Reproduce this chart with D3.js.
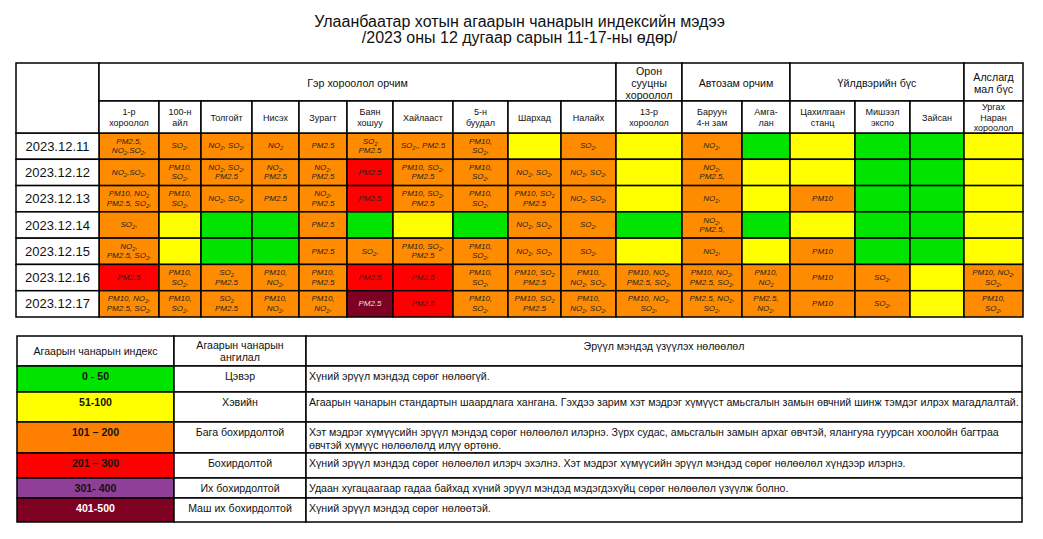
<!DOCTYPE html>
<html>
<head>
<meta charset="utf-8">
<script src="https://cdn.jsdelivr.net/npm/d3@7"></script>
<style>
	body { margin: 0; background: #fff; }
	svg { font-family: "Liberation Sans", Arial, sans-serif; }
</style>
</head>
<body>
<svg></svg>
<script>
// ---------- DATA ----------
const titleLines = [
	"Улаанбаатар хотын агаарын чанарын индексийн мэдээ",
	"/2023 оны 12 дугаар сарын 11-17-ны өдөр/",
];

const groups = [
	"Гэр хороолол орчим",
	"Орон\nсууцны\nхороолол",
	"Автозам орчим",
	"Үйлдвэрийн бүс",
	"Алслагд\nмал бүс",
];
// how many stations belong to each group
const groupSpan = [10, 1, 2, 3, 1];

const stations = [
	"1-р\nхороолол", "100-н\nайл", "Толгойт", "Нисэх", "Зурагт",
	"Баян\nхошуу", "Хайлааст", "5-н\nбуудал", "Шархад", "Налайх",
	"13-р\nхороолол", "Баруун\n4-н зам", "Амга-\nлан",
	"Цахилгаан\nстанц", "Мишээл\nэкспо", "Зайсан",
	"Ургах\nНаран\nхороолол",
];

const dates = [
	"2023.12.11", "2023.12.12", "2023.12.13", "2023.12.14",
	"2023.12.15", "2023.12.16", "2023.12.17",
];

// 0 clean, 1 normal, 2 slightly polluted, 3 polluted, 4 very, 5 extremely
const levels = [
	[2, 2, 2, 2, 2, 2, 2, 2, 1, 2, 1, 2, 0, 1, 0, 0, 1],
	[2, 2, 2, 2, 2, 3, 2, 2, 2, 2, 1, 2, 1, 1, 0, 0, 1],
	[2, 2, 2, 2, 2, 3, 2, 2, 2, 2, 1, 2, 1, 2, 0, 0, 1],
	[2, 1, 0, 0, 2, 0, 1, 0, 2, 2, 0, 2, 0, 1, 0, 0, 1],
	[2, 1, 0, 0, 2, 2, 2, 2, 2, 2, 1, 2, 1, 2, 0, 0, 1],
	[3, 2, 2, 2, 2, 3, 3, 2, 2, 2, 2, 2, 2, 2, 2, 1, 2],
	[2, 2, 2, 2, 2, 5, 3, 2, 2, 2, 2, 2, 2, 2, 2, 1, 2],
];

const pollutants = [
	["PM2.5,\nNO2,SO2,", "SO2,", "NO2, SO2,", "NO2", "PM2.5", "SO2\nPM2.5", "SO2,, PM2.5", "PM10,\nSO2,",
		"", "SO2,", "", "NO2,", "", "", "", "", ""],
	["NO2,SO2,", "PM10,\nSO2,", "NO2, SO2,\nPM2.5", "NO2,\nPM2.5", "NO2,\nPM2.5", "PM2.5", "PM10,  SO2,\nPM2.5", "PM10,\nSO2,",
		"NO2, SO2,", "NO2, SO2,", "", "NO2,\nPM2.5,", "", "", "", "", ""],
	["PM10,  NO2\nPM2.5, SO2,", "PM10,\nSO2,", "NO2, SO2,", "PM2.5", "NO2,\nPM2.5", "PM2.5", "PM10,  SO2,\nPM2.5", "PM10,\nSO2,",
		"PM10, SO2\nPM2.5", "NO2, SO2,", "", "NO2,", "", "PM10", "", "", ""],
	["SO2,", "", "", "", "PM2.5", "", "", "",
		"NO2, SO2,", "SO2,", "", "NO2,\nPM2.5,", "", "", "", "", ""],
	["NO2,\nPM2.5, SO2,", "", "", "", "PM2.5", "SO2,", "PM10,  SO2,\nPM2.5", "PM10,\nSO2,",
		"NO2, SO2,", "SO2,", "", "NO2,", "", "PM10", "", "", ""],
	["PM2.5", "PM10,\nSO2,", "SO2\nPM2.5", "PM10,\nNO2,", "PM10,\nPM2.5", "PM2.5", "PM2.5", "PM10,\nSO2,",
		"PM10, SO2\nPM2.5", "PM10,\nNO2, SO2,", "PM10,  NO2,\nPM2.5, SO2,", "PM10,  NO2,\nPM2.5, SO2,", "PM10,\nNO2",
		"PM10", "SO2,", "", "PM10,  NO2,\nSO2,"],
	["PM10,  NO2,\nPM2.5, SO2,", "PM10,\nSO2,", "SO2\nPM2.5", "PM10,\nNO2,", "PM10,\nNO2,", "PM2.5", "PM2.5", "PM10,\nSO2,",
		"PM10, SO2\nPM2.5", "PM10,\nNO2, SO2,", "PM10,  NO2,\nSO2,", "PM2.5, NO2,\nSO2,", "PM2.5,\nNO2,",
		"PM10", "SO2,", "", "PM10,\nSO2,"],
];

const legendHeaders = ["Агаарын чанарын индекс", "Агаарын чанарын\nангилал", "Эрүүл мэндэд үзүүлэх нөлөөлөл"];
const aqiRanges = ["0 - 50", "51-100", "101 – 200", "201 – 300", "301- 400", "401-500"];
const aqiClasses = ["Цэвэр", "Хэвийн", "Бага бохирдолтой", "Бохирдолтой", "Их бохирдолтой", "Маш их бохирдолтой"];
const aqiEffects = [
	"Хүний эрүүл мэндэд сөрөг нөлөөгүй.",
	"Агаарын чанарын стандартын шаардлага хангана. Гэхдээ зарим хэт мэдрэг хүмүүст  амьсгалын замын өвчний шинж тэмдэг илрэх магадлалтай.",
	"Хэт мэдрэг хүмүүсийн эрүүл мэндэд  сөрөг нөлөөлөл илэрнэ. Зүрх судас, амьсгалын замын архаг өвчтэй, ялангуяа гуурсан хоолойн багтраа\nөвчтэй хүмүүс нөлөөлөлд илүү өртөнө.",
	"Хүний эрүүл мэндэд сөрөг нөлөөлөл илэрч эхэлнэ. Хэт мэдрэг хүмүүсийн эрүүл мэндэд сөрөг нөлөөлөл хүндээр илэрнэ.",
	"Удаан хугацаагаар гадаа байхад хүний эрүүл мэндэд мэдэгдэхүйц сөрөг нөлөөлөл үзүүлж болно.",
	"Хүний эрүүл мэндэд сөрөг нөлөөтэй.",
];

// ---------- STYLE / LAYOUT ----------
const size = { w: 1043, h: 539 };
const tableColors = ["#00e400", "#ffff00", "#ff8c00", "#ff0000", "#8f3f97", "#7e0023"];
const legendColors = ["#00e400", "#ffff00", "#ff8000", "#ff0000", "#8f3f97", "#7e0023"];
const tbl = { l: 16, t: 63, r: 1023, b: 317, dateW: 83, groupB: 101, headB: 133 };
const colWeights = [60, 42, 51, 47, 48, 46, 60, 55, 53, 55, 66, 60, 48, 65, 55, 54, 59];
const leg = { l: 17, t: 336, b: 522, r: 1022, c1: 174, c2: 306 };
const legRowWeights = [30, 26, 30, 31, 25, 20, 24];
const legFont = 10.6;
const stroke = 1.5;

const svg = d3.select("svg").attr("width", size.w).attr("height", size.h);

// draws text with NO2 / SO2 subscripts, one tspan per piece
function richText(g, str, x, cy, lh, fs, anchor) {
	const lines = str.split("\n");
	const t = g.append("text")
		.attr("text-anchor", anchor || "middle")
		.attr("font-size", fs);
	lines.forEach((ln, k) => {
		const y = cy + (k - (lines.length - 1) / 2) * lh + fs * 0.35;
		const parts = ln.split(/(NO2|SO2)/).filter((p) => p !== "");
		let first = true;
		let shifted = false;
		parts.forEach((p) => {
			const isChem = p === "NO2" || p === "SO2";
			const a = t.append("tspan").text(isChem ? p.slice(0, 2) : p);
			if (first) { a.attr("x", x).attr("y", y); first = false; }
			else if (shifted) { a.attr("dy", -2); shifted = false; }
			if (isChem) {
				t.append("tspan").text("2").attr("font-size", fs * 0.7).attr("dy", 2);
				shifted = true;
			}
		});
	});
	return t;
}

// ---------- TITLE ----------
svg.append("g").selectAll("text")
	.data(titleLines)
	.join("text")
	.attr("x", size.w / 2 - 2)
	.attr("y", (d, i) => 27 + i * 16)
	.attr("text-anchor", "middle")
	.attr("font-size", 16)
	.attr("fill", "#111")
	.text((d) => d);

// ---------- MAIN TABLE ----------
const edges = d3.cumsum([0, ...colWeights]);
const x = d3.scaleLinear()
	.domain([0, edges[edges.length - 1]])
	.range([tbl.l + tbl.dateW, tbl.r]);
const y = d3.scaleBand().domain(dates).range([tbl.headB, tbl.b]);

const tableG = svg.append("g").classed("table", true);

// cell fills
const cells = [];
dates.forEach((d, i) => {
	stations.forEach((s, j) => {
		cells.push({ date: d, j: j, level: levels[i][j], text: pollutants[i][j] });
	});
});

tableG.append("g").selectAll("rect")
	.data(cells)
	.join("rect")
	.attr("x", (d) => x(edges[d.j]))
	.attr("y", (d) => y(d.date))
	.attr("width", (d) => x(edges[d.j + 1]) - x(edges[d.j]))
	.attr("height", y.bandwidth())
	.attr("fill", (d) => tableColors[d.level])
	.attr("stroke", "#000")
	.attr("stroke-width", stroke);

const cellText = tableG.append("g").attr("font-style", "italic");
cells.filter((d) => d.text).forEach((d) => {
	const cx = (x(edges[d.j]) + x(edges[d.j + 1])) / 2;
	const cy = y(d.date) + y.bandwidth() / 2 - 0.5;
	richText(cellText, d.text, cx, cy, 9.5, 8)
		.attr("fill", d.level === 5 ? "#e0e0e0" : "#222");
});

// date column
tableG.append("g").selectAll("rect")
	.data(dates)
	.join("rect")
	.attr("x", tbl.l)
	.attr("y", (d) => y(d))
	.attr("width", tbl.dateW)
	.attr("height", y.bandwidth())
	.attr("fill", "#fff")
	.attr("stroke", "#000")
	.attr("stroke-width", stroke);

tableG.append("g").selectAll("text")
	.data(dates)
	.join("text")
	.attr("x", tbl.l + tbl.dateW / 2)
	.attr("y", (d) => y(d) + y.bandwidth() / 2 + 4.6)
	.attr("text-anchor", "middle")
	.attr("font-size", 13)
	.attr("fill", "#111")
	.text((d) => d);

// header: empty corner cell
tableG.append("rect")
	.attr("x", tbl.l).attr("y", tbl.t)
	.attr("width", tbl.dateW).attr("height", tbl.headB - tbl.t)
	.attr("fill", "#fff").attr("stroke", "#000").attr("stroke-width", stroke);

// header: groups
const groupEdges = d3.cumsum([0, ...groupSpan]);
const headG = tableG.append("g").attr("fill", "#111");
groups.forEach((gname, k) => {
	const x0 = x(edges[groupEdges[k]]);
	const x1 = x(edges[groupEdges[k + 1]]);
	headG.append("rect")
		.attr("x", x0).attr("y", tbl.t)
		.attr("width", x1 - x0).attr("height", tbl.groupB - tbl.t)
		.attr("fill", "#fff").attr("stroke", "#000").attr("stroke-width", stroke);
	richText(headG, gname, (x0 + x1) / 2, (tbl.t + tbl.groupB) / 2 + 1, 12, 10.67);
});

// header: stations
stations.forEach((s, j) => {
	const x0 = x(edges[j]);
	const x1 = x(edges[j + 1]);
	headG.append("rect")
		.attr("x", x0).attr("y", tbl.groupB)
		.attr("width", x1 - x0).attr("height", tbl.headB - tbl.groupB)
		.attr("fill", "#fff").attr("stroke", "#000").attr("stroke-width", stroke);
	richText(headG, s, (x0 + x1) / 2, (tbl.groupB + tbl.headB) / 2 + 0.5, 10.5, 9);
});

// ---------- LEGEND ----------
const legEdges = d3.cumsum([0, ...legRowWeights]);
const ly = d3.scaleLinear()
	.domain([0, legEdges[legEdges.length - 1]])
	.range([leg.t, leg.b]);
const legCols = [leg.l, leg.c1, leg.c2, leg.r];
const legendG = svg.append("g").classed("legend", true).attr("fill", "#111");

// header row
legendHeaders.forEach((h, c) => {
	legendG.append("rect")
		.attr("x", legCols[c]).attr("y", ly(legEdges[0]))
		.attr("width", legCols[c + 1] - legCols[c])
		.attr("height", ly(legEdges[1]) - ly(legEdges[0]))
		.attr("fill", "#fff").attr("stroke", "#000").attr("stroke-width", stroke);
	const cy = c === 2 ? ly(legEdges[0]) + 10 : (ly(legEdges[0]) + ly(legEdges[1])) / 2;
	richText(legendG, h, (legCols[c] + legCols[c + 1]) / 2, cy, 12, legFont);
});

aqiRanges.forEach((r, i) => {
	const y0 = ly(legEdges[i + 1]);
	const y1 = ly(legEdges[i + 2]);
	[legendColors[i], "#fff", "#fff"].forEach((fill, c) => {
		legendG.append("rect")
			.attr("x", legCols[c]).attr("y", y0)
			.attr("width", legCols[c + 1] - legCols[c]).attr("height", y1 - y0)
			.attr("fill", fill).attr("stroke", "#000").attr("stroke-width", stroke);
	});
	richText(legendG, r, (legCols[0] + legCols[1]) / 2, y0 + 10, 13, legFont)
		.attr("font-weight", "bold")
		.attr("fill", i === 5 ? "#fff" : "#111");
	richText(legendG, aqiClasses[i], (legCols[1] + legCols[2]) / 2, y0 + 10, 13, legFont);
	const lines = aqiEffects[i].split("\n");
	richText(legendG, aqiEffects[i], legCols[2] + 3, y0 + 10 + (lines.length - 1) * 6.5, 13, legFont, "start");
});
</script>
</body>
</html>
